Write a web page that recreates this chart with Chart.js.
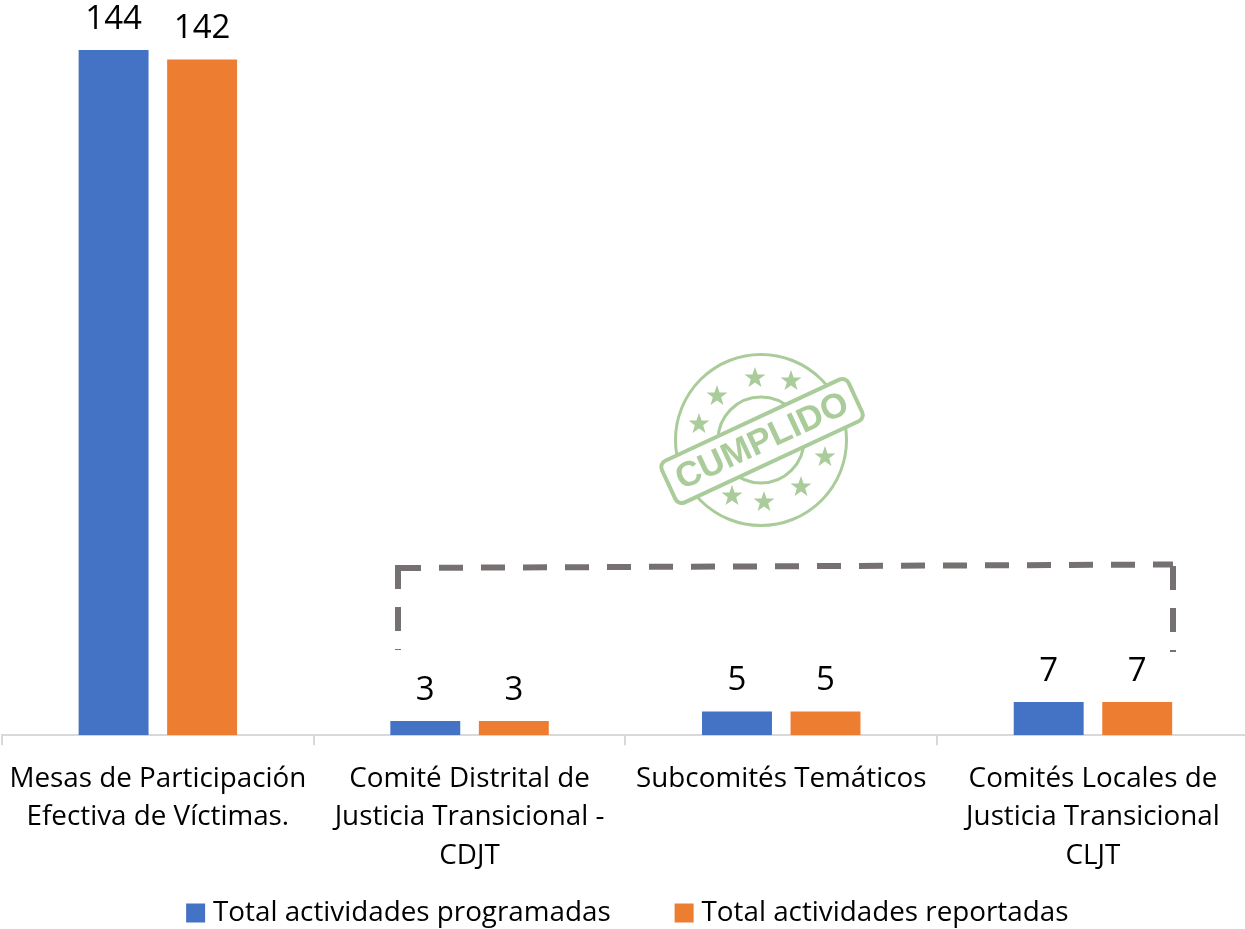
<!DOCTYPE html>
<html><head><meta charset="utf-8">
<style>html,body{margin:0;padding:0;background:#fff}#w{width:1245px;height:929px;position:relative}</style>
<script src="https://cdn.jsdelivr.net/npm/chart.js@4"></script>
</head><body><div id="w"><canvas id="c"></canvas></div>
<script>
const categories = [
  ["Mesas de Participación","Efectiva de Víctimas."],
  ["Comité Distrital de","Justicia Transicional -","CDJT"],
  ["Subcomités Temáticos"],
  ["Comités Locales de","Justicia Transicional","CLJT"]
];
const programadas = [144, 3, 5, 7];
const reportadas = [142, 3, 5, 7];
const seriesNames = ["Total actividades programadas", "Total actividades reportadas"];
const seriesColors = ["#4472C4", "#ED7D31"];
const FONT = '"Open Sans"';
const GREEN = "#A9CC9A";

const dataLabels = {
  id: "dataLabels",
  afterDatasetsDraw(chart) {
    const ctx = chart.ctx;
    ctx.save();
    ctx.font = "33px " + FONT;
    ctx.fillStyle = "#000";
    ctx.textAlign = "center";
    ctx.textBaseline = "middle";
    chart.data.datasets.forEach((ds, i) => {
      chart.getDatasetMeta(i).data.forEach((bar, j) => {
        ctx.fillText(String(ds.data[j]), bar.x, bar.y - 30.5);
      });
    });
    ctx.restore();
  }
};

// The axis runs slightly past the page edge in the reference, and its labels
// extend past the reduced scale box, so widen the box after layout.
const axisBox = {
  id: "axisBox",
  afterLayout(chart) {
    const x = chart.scales.x;
    x.left = 2;
    x.right = 1248.8;
    x.width = x.right - x.left;
    x.bottom = chart.height;
    x.configure();
  }
};

function star(ctx, x, y, r, rot) {
  ctx.beginPath();
  for (let i = 0; i < 10; i++) {
    const a = rot - Math.PI / 2 + i * Math.PI / 5;
    const q = i % 2 ? r * 0.4 : r;
    ctx.lineTo(x + q * Math.cos(a), y + q * Math.sin(a));
  }
  ctx.closePath();
  ctx.fill();
}

const decorations = {
  id: "decorations",
  afterDraw(chart) {
    const ctx = chart.ctx;
    ctx.save();
    ctx.strokeStyle = "#767171";
    ctx.lineWidth = 6;
    ctx.setLineDash([24, 18]);
    ctx.beginPath(); ctx.moveTo(397, 568); ctx.lineTo(1173, 564.5); ctx.stroke();
    ctx.beginPath(); ctx.moveTo(398, 565); ctx.lineTo(398, 650); ctx.stroke();
    ctx.beginPath(); ctx.moveTo(1173, 566); ctx.lineTo(1173, 652); ctx.stroke();
    ctx.setLineDash([]);
    ctx.strokeStyle = GREEN;
    ctx.fillStyle = GREEN;
    ctx.lineWidth = 3;
    ctx.beginPath(); ctx.arc(761, 440, 85.5, 0, Math.PI * 2); ctx.stroke();
    ctx.beginPath(); ctx.arc(761, 440, 43, 0, Math.PI * 2); ctx.stroke();
    [[755,378],[791,381],[717,396],[699,424],[825,457],[801,487],[764,502],[732,496]]
      .forEach(p => star(ctx, p[0], p[1], 11, 0));
    ctx.translate(762, 441);
    ctx.rotate(-25 * Math.PI / 180);
    ctx.beginPath();
    ctx.roundRect(-103, -23, 206, 46, 7);
    ctx.fillStyle = "#fff";
    ctx.fill();
    ctx.lineWidth = 4;
    ctx.stroke();
    ctx.fillStyle = GREEN;
    ctx.font = 'bold 35px "Liberation Sans"';
    ctx.textAlign = "center";
    ctx.textBaseline = "middle";
    ctx.fillText("CUMPLIDO", 0, 1);
    ctx.restore();
  }
};

new Chart(document.getElementById("c"), {
  type: "bar",
  data: {
    labels: categories,
    datasets: [
      { label: seriesNames[0], data: programadas, backgroundColor: seriesColors[0], pointStyle: "rect" },
      { label: seriesNames[1], data: reportadas, backgroundColor: seriesColors[1], pointStyle: "rect" }
    ]
  },
  options: {
    responsive: true,
    maintainAspectRatio: false,
    animation: false,
    layout: { padding: { top: 50, left: 15.5, right: 0, bottom: -8 } },
    datasets: { bar: { categoryPercentage: 0.568, barPercentage: 0.79 } },
    scales: {
      x: {
        offset: true,
        afterFit(scale) { scale.height = 94; scale.paddingLeft = 0; scale.paddingRight = 0; },
        grid: { drawOnChartArea: false, drawTicks: true, tickLength: 10, color: "#D9D9D9", lineWidth: 2 },
        border: { color: "#D9D9D9", width: 2 },
        ticks: { font: { family: FONT, size: 27.8, lineHeight: 1.4 }, color: "#000", maxRotation: 0, autoSkip: false, padding: 14 }
      },
      y: { display: false, min: 0, max: 144 }
    },
    plugins: {
      tooltip: { enabled: false },
      legend: {
        position: "bottom",
        labels: {
          usePointStyle: true, boxWidth: 7, boxHeight: 19, padding: 70,
          color: "#000", font: { family: FONT, size: 27.8 }
        }
      }
    }
  },
  plugins: [axisBox, dataLabels, decorations]
});
</script></body></html>
